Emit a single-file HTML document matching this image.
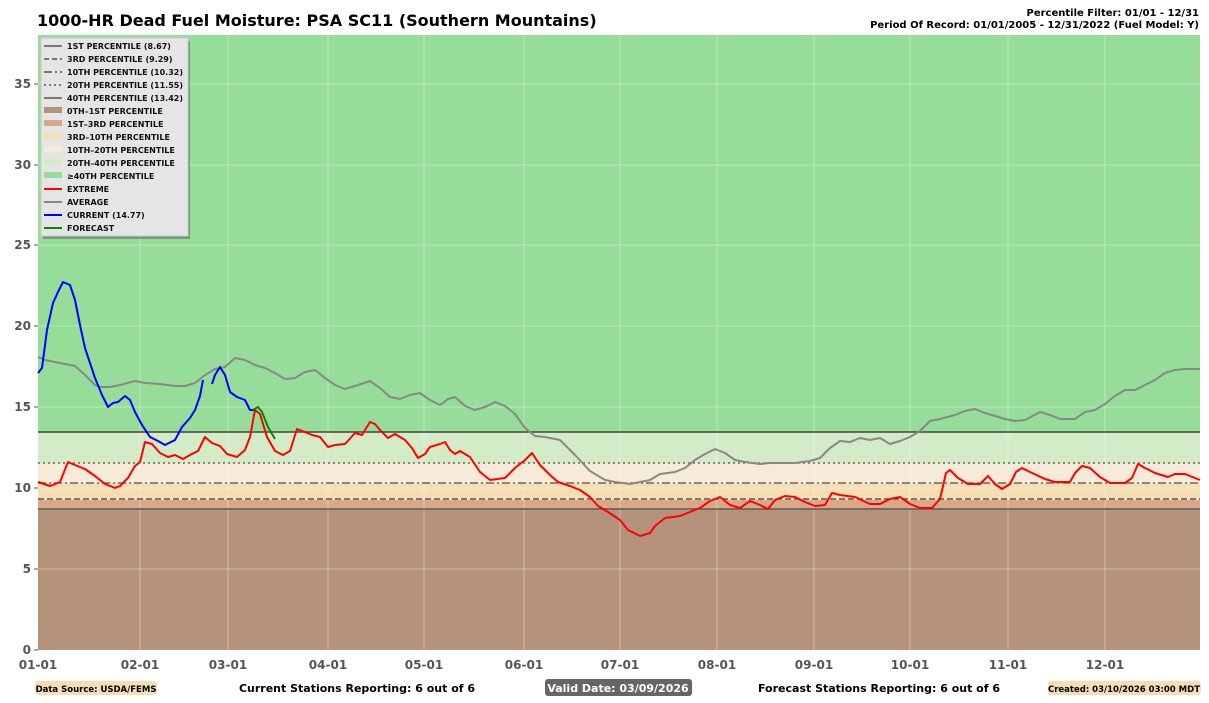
<!DOCTYPE html><html><head><meta charset="utf-8"><style>
body{margin:0;background:#fff;width:1209px;height:703px;overflow:hidden;font-family:"DejaVu Sans","Liberation Sans",sans-serif;}
.t{position:absolute;white-space:nowrap}
</style></head><body>
<div class="t" style="left:37px;top:11px;font-size:16px;font-weight:bold;">1000-HR Dead Fuel Moisture: PSA SC11 (Southern Mountains)</div>
<div class="t" style="right:10px;top:8px;font-size:10px;font-weight:bold;text-align:right;line-height:12px">Percentile Filter: 01/01 - 12/31<br>Period Of Record: 01/01/2005 - 12/31/2022 (Fuel Model: Y)</div>
<svg width="1209" height="703" style="position:absolute;left:0;top:0">
<rect x="38" y="35" width="1162" height="615" fill="#95dd98"/>
<rect x="38" y="432" width="1162" height="31" fill="#d4ebc8"/>
<rect x="38" y="463" width="1162" height="20" fill="#f6ebd9"/>
<rect x="38" y="483" width="1162" height="17" fill="#f5deb3"/>
<rect x="38" y="500" width="1162" height="10" fill="#d9a888"/>
<rect x="38" y="510" width="1162" height="140" fill="#b5937a"/>
<g stroke="#fff" stroke-opacity="0.35" stroke-width="1">
<line x1="38" y1="569" x2="1200" y2="569"/><line x1="38" y1="488" x2="1200" y2="488"/><line x1="38" y1="407" x2="1200" y2="407"/><line x1="38" y1="326" x2="1200" y2="326"/><line x1="38" y1="245" x2="1200" y2="245"/><line x1="38" y1="165" x2="1200" y2="165"/><line x1="38" y1="84" x2="1200" y2="84"/>
<line x1="140" y1="35" x2="140" y2="650"/><line x1="228" y1="35" x2="228" y2="650"/><line x1="328" y1="35" x2="328" y2="650"/><line x1="424" y1="35" x2="424" y2="650"/><line x1="524" y1="35" x2="524" y2="650"/><line x1="620" y1="35" x2="620" y2="650"/><line x1="717" y1="35" x2="717" y2="650"/><line x1="814" y1="35" x2="814" y2="650"/><line x1="910" y1="35" x2="910" y2="650"/><line x1="1008" y1="35" x2="1008" y2="650"/><line x1="1105" y1="35" x2="1105" y2="650"/>
</g>
<g stroke-width="1.5" fill="none" stroke-linejoin="round">
<line x1="38" y1="509" x2="1200" y2="509" stroke="#555"/>
<line x1="38" y1="499" x2="1200" y2="499" stroke="#555" stroke-dasharray="6,3"/>
<line x1="38" y1="483" x2="1200" y2="483" stroke="#666" stroke-dasharray="8,3,2,3"/>
<line x1="38" y1="463" x2="1200" y2="463" stroke="#666" stroke-dasharray="2,3"/>
<line x1="38" y1="432" x2="1200" y2="432" stroke="#444"/>
<polyline stroke="#888" stroke-width="2" points="38,357 45,360 60,363 75,366 85,375 95,385 100,387 110,387 120,385 135,381 145,383 160,384 175,386 185,386 195,383 205,375 215,369 225,367 235,358 245,360 255,365 265,368 275,373 285,379 295,378 305,372 315,370 325,378 335,385 345,389 355,386 370,381 380,388 390,397 400,399 410,395 420,393 430,400 440,405 448,399 455,397 465,406 475,410 485,407 495,402 505,406 515,414 525,428 535,436 545,437 560,440 575,455 590,471 605,480 615,482 630,484 640,482 650,480 660,474 675,472 685,468 695,460 705,454 715,449 725,453 735,460 745,462 760,464 770,463 780,463 795,463 810,461 820,458 830,448 840,441 850,442 860,438 870,440 880,438 890,444 900,441 910,437 920,431 930,421 940,419 955,415 965,411 975,409 985,413 995,416 1005,419 1015,421 1025,420 1040,412 1050,415 1060,419 1075,419 1085,412 1095,410 1105,404 1115,396 1125,390 1135,390 1145,385 1155,380 1165,373 1175,370 1185,369 1200,369"/>
<polyline stroke="#f00" stroke-width="2" points="38,482 50,486 60,482 68,462 75,465 85,469 95,476 105,484 115,488 120,486 128,478 135,466 140,462 145,442 152,444 160,453 168,457 175,455 183,459 190,455 198,451 205,437 212,443 220,446 227,454 237,457 245,450 250,437 255,410 260,414 267,437 275,451 283,455 290,451 297,429 305,432 312,435 320,437 328,447 335,445 345,444 355,433 362,435 370,422 375,424 380,430 388,438 395,434 405,440 412,448 418,458 425,454 430,447 440,444 445,442 450,450 455,454 460,451 470,457 480,472 490,480 505,478 515,468 525,460 532,453 540,465 550,475 558,482 570,486 580,490 590,497 598,506 608,512 620,520 628,530 640,536 650,533 655,526 665,518 680,516 690,512 700,508 710,501 720,497 730,505 740,508 750,501 760,505 768,509 775,500 785,496 795,497 805,502 815,506 825,505 832,493 840,495 855,497 870,504 880,504 890,499 900,497 910,504 920,508 932,508 940,499 946,473 950,470 958,478 968,484 980,484 988,476 995,484 1002,489 1010,484 1016,472 1022,468 1030,472 1045,479 1055,482 1070,482 1075,473 1082,466 1090,468 1100,477 1110,483 1125,483 1132,478 1138,464 1145,468 1155,473 1168,477 1175,474 1185,474 1200,480"/>
<polyline stroke="#00f" stroke-width="2" points="38,373 42,368 47,330 53,303 58,292 63,282 70,285 75,300 80,325 85,348 95,378 102,395 108,407 113,403 118,402 125,396 130,400 135,412 142,425 150,437 158,441 165,445 175,440 182,427 190,418 195,410 200,396 203,380"/>
<polyline stroke="#00f" stroke-width="2" points="212,384 215,375 220,367 225,375 230,392 237,397 245,400 250,410 255,410"/>
<polyline stroke="#080" stroke-width="2" points="253,410 258,407 262,412 268,427 275,439"/>
</g>
<g stroke="#555" stroke-width="1">
<line x1="34" y1="650" x2="38" y2="650"/><line x1="34" y1="569" x2="38" y2="569"/><line x1="34" y1="488" x2="38" y2="488"/><line x1="34" y1="407" x2="38" y2="407"/><line x1="34" y1="326" x2="38" y2="326"/><line x1="34" y1="245" x2="38" y2="245"/><line x1="34" y1="165" x2="38" y2="165"/><line x1="34" y1="84" x2="38" y2="84"/>
</g>
<g font-size="12" font-weight="bold" fill="#555" text-anchor="end">
<text x="31" y="654">0</text><text x="31" y="573">5</text><text x="31" y="492">10</text><text x="31" y="411">15</text><text x="31" y="330">20</text><text x="31" y="249">25</text><text x="31" y="169">30</text><text x="31" y="88">35</text>
</g>
<g font-size="12" font-weight="bold" fill="#555" text-anchor="middle">
<text x="38" y="669">01-01</text><text x="140" y="669">02-01</text><text x="228" y="669">03-01</text><text x="328" y="669">04-01</text><text x="424" y="669">05-01</text><text x="524" y="669">06-01</text><text x="620" y="669">07-01</text><text x="717" y="669">08-01</text><text x="814" y="669">09-01</text><text x="910" y="669">10-01</text><text x="1008" y="669">11-01</text><text x="1105" y="669">12-01</text>
</g>
<rect x="43" y="41" width="147" height="198" fill="#555" opacity="0.5"/>
<rect x="41" y="38" width="147" height="198" fill="#e5e5e5" stroke="#ccc"/>
<g stroke-width="2">
<line x1="44" y1="46" x2="62" y2="46" stroke="#777"/>
<line x1="44" y1="59" x2="62" y2="59" stroke="#777" stroke-dasharray="5,3"/>
<line x1="44" y1="72" x2="62" y2="72" stroke="#777" stroke-dasharray="8,3,2,3"/>
<line x1="44" y1="85" x2="62" y2="85" stroke="#777" stroke-dasharray="2,3"/>
<line x1="44" y1="98" x2="62" y2="98" stroke="#777"/>
<line x1="44" y1="189" x2="62" y2="189" stroke="#f00"/>
<line x1="44" y1="202" x2="62" y2="202" stroke="#888"/>
<line x1="44" y1="215" x2="62" y2="215" stroke="#00f"/>
<line x1="44" y1="228" x2="62" y2="228" stroke="#080"/>
</g>
<rect x="44" y="107" width="18" height="6" fill="#b5937a"/><rect x="44" y="120" width="18" height="6" fill="#d9a888"/><rect x="44" y="133" width="18" height="6" fill="#f5deb3"/><rect x="44" y="146" width="18" height="6" fill="#f6ebd9"/><rect x="44" y="159" width="18" height="6" fill="#d4ebc8"/><rect x="44" y="172" width="18" height="6" fill="#95dd98"/>
<g font-size="8" font-weight="bold" fill="#111">
<text x="67" y="49">1ST PERCENTILE (8.67)</text><text x="67" y="62">3RD PERCENTILE (9.29)</text><text x="67" y="75">10TH PERCENTILE (10.32)</text><text x="67" y="88">20TH PERCENTILE (11.55)</text><text x="67" y="101">40TH PERCENTILE (13.42)</text><text x="67" y="114">0TH–1ST PERCENTILE</text><text x="67" y="127">1ST–3RD PERCENTILE</text><text x="67" y="140">3RD–10TH PERCENTILE</text><text x="67" y="153">10TH–20TH PERCENTILE</text><text x="67" y="166">20TH–40TH PERCENTILE</text><text x="67" y="179">≥40TH PERCENTILE</text><text x="67" y="192">EXTREME</text><text x="67" y="205">AVERAGE</text><text x="67" y="218">CURRENT (14.77)</text><text x="67" y="231">FORECAST</text>
</g>
<rect x="35" y="681" width="122" height="14" rx="3" fill="#f5deb3"/>
<text x="96" y="692" font-size="8.5" font-weight="bold" text-anchor="middle">Data Source: USDA/FEMS</text>
<text x="357" y="692" font-size="11" font-weight="bold" text-anchor="middle">Current Stations Reporting: 6 out of 6</text>
<rect x="545" y="679" width="147" height="17" rx="3" fill="#666"/>
<text x="618" y="692" font-size="11" font-weight="bold" fill="#fff" text-anchor="middle">Valid Date: 03/09/2026</text>
<text x="879" y="692" font-size="11" font-weight="bold" text-anchor="middle">Forecast Stations Reporting: 6 out of 6</text>
<rect x="1048" y="681" width="153" height="14" rx="3" fill="#f5deb3"/>
<text x="1124" y="692" font-size="8.5" font-weight="bold" text-anchor="middle">Created: 03/10/2026 03:00 MDT</text>
</svg>
</body></html>
